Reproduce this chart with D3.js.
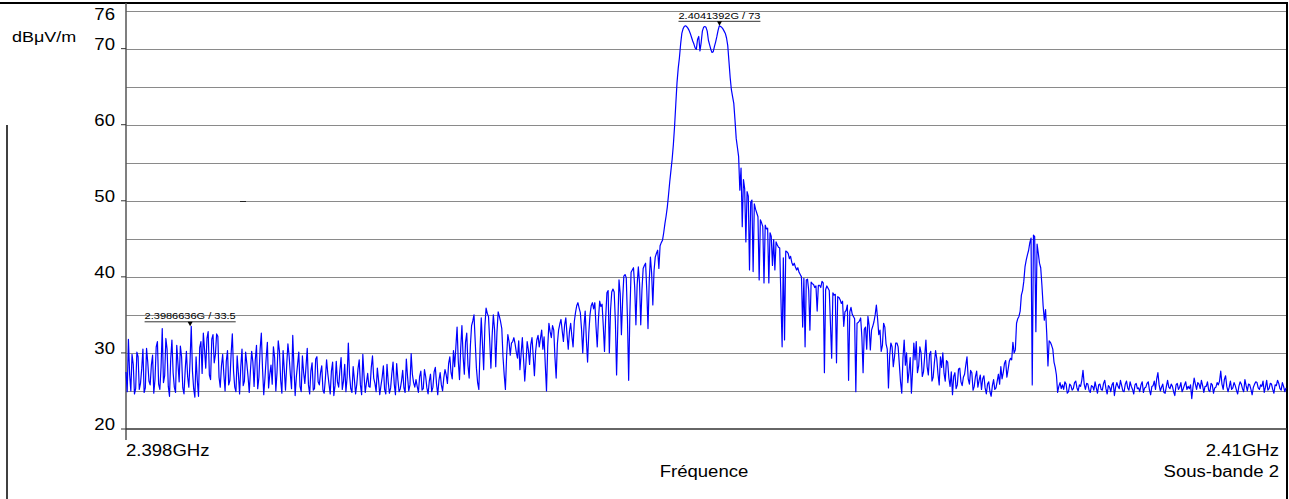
<!DOCTYPE html>
<html>
<head>
<meta charset="utf-8">
<script src="https://cdn.jsdelivr.net/npm/d3@7"></script>
<style>
  body { margin: 0; background: #fff; }
  svg { display: block; }
  text { font-family: "Liberation Sans", Arial, sans-serif; fill: #000; }
</style>
</head>
<body>
<svg id="chart"></svg>
<script>
// sweep: 2.398 GHz -> 2.41 GHz, one point every 12.5 kHz
const fStart = 2.398;
const fStop = 2.41;
const fStep = 0.0000125;

// levels in dBuV/m, one array per MHz (80 points each, last one closes the sweep)
const band0 = [
  27.5, 24.9, 31.8, 27.2, 25, 29.8, 28.5, 24.6, 25.3, 30.1,
  29.5, 25.2, 26, 27.9, 30.5, 24.8, 25.4, 30.6, 28.8, 26.3,
  25.8, 28.4, 29.7, 24.7, 26.5, 30.8, 31.5, 25.9, 25.2, 28.1,
  33.2, 26.1, 27, 31.9, 30.5, 25.6, 24.3, 29.2, 31.7, 27.4,
  25.5, 24.8, 31, 28.6, 26.2, 30.9, 29.5, 25.4, 24.6, 27.8,
  30.2, 26.9, 25.5, 28.9, 33.5, 27.6, 25.3, 24.2, 29.5, 26.4,
  24.3, 30.7, 31.5, 27.3, 32.6, 30.4, 28, 31.9, 32.8, 27.1,
  26.5, 31.8, 32.4, 28.7, 29.8, 32.5, 32.2, 26.8, 25.5, 28.3];
const band1 = [
  29.8, 27.1, 25, 28.9, 30.3, 25.8, 26.4, 29.9, 32.5, 27.6,
  25.5, 24.9, 29.6, 27.3, 24.6, 28.2, 30.5, 25.7, 26.3, 30.1,
  28.6, 26.9, 24.8, 27.7, 30.2, 28.8, 25.6, 29.1, 31, 25.3,
  26.8, 30.5, 32.6, 27.9, 24.5, 26.7, 29.3, 31.4, 25.4, 27.2,
  28.4, 25.9, 30.8, 29.4, 25, 27.5, 31.6, 30.2, 26.4, 24.7,
  30.3, 27.8, 25.1, 28.4, 31.2, 29.6, 27.2, 25.3, 32.3, 28.1,
  24.4, 26.9, 28.5, 30.1, 25.6, 24.9, 29.6, 27.4, 26, 28.3,
  30.6, 25.8, 24.6, 27.6, 28.7, 25.1, 25.3, 29.2, 29.5, 26.2];
const band2 = [
  25.8, 27.4, 28.3, 25.1, 24.7, 26.6, 29.1, 27.3, 25.9, 24.6,
  27.6, 28.8, 24.4, 25.7, 28.9, 26.2, 25.5, 27.7, 29.4, 25.2,
  26.3, 28.5, 24.9, 26.8, 31.3, 27.1, 25.3, 24.8, 28.2, 26.5,
  24.6, 25.9, 27.9, 29.1, 25.8, 24.5, 29.8, 27, 24.8, 26.1,
  27.3, 25.6, 25.5, 28.1, 29.6, 26.7, 26, 24.9, 28, 26.4,
  24.5, 25.7, 26.8, 28.3, 25.2, 24.6, 28.5, 26.2, 24.7, 25.4,
  27.3, 28.8, 25.9, 24.5, 28.6, 26.5, 24.9, 25.3, 26.3, 27.7,
  25.4, 24.8, 29.2, 26.9, 25, 25.8, 29.9, 27.2, 26.1, 25.5];
const band3 = [
  26.5, 25.6, 24.8, 26.9, 27.6, 25.1, 25.3, 27.8, 26.9, 25.4,
  24.6, 26.3, 27.2, 24.9, 25.5, 27.5, 28.1, 25.9, 24.5, 26.4,
  27.4, 25.8, 25, 26.7, 27.8, 27.1, 26, 28.6, 29.5, 27.4,
  26.6, 30.3, 28.2, 30.8, 33.4, 28.9, 26.5, 30.6, 33.6, 29.5,
  27.2, 31.4, 32.6, 28.4, 26.7, 30.9, 33.6, 34.2, 35, 31.5,
  28, 26.1, 25.2, 30.4, 34.6, 31.2, 27.8, 33.5, 35.9, 35.2,
  34.8, 31.6, 28, 32.2, 35, 33.1, 28.2, 32.7, 35.4, 34.8,
  34.1, 33.2, 29.5, 27.1, 25.2, 29.6, 32.4, 31.5, 29.7, 31.3];
const band4 = [
  31.5, 32, 31.2, 30.1, 29.3, 31.6, 27.8, 29.9, 32, 29.2,
  26.3, 28.7, 31.5, 30.4, 28.5, 31.1, 32, 29.6, 27, 30.2,
  31.7, 32.3, 30.8, 31.9, 33, 30.5, 32.1, 28.4, 25, 30.7,
  33.9, 32.8, 32, 33.6, 33, 29.4, 26.7, 31.2, 33, 33.8,
  34.4, 32.9, 31.5, 33.7, 34.6, 32.4, 30.5, 32.8, 33.9, 32.2,
  30.8, 34.1, 35.3, 36.2, 36.6, 35.9, 35.3, 33.1, 30, 33.4,
  35.5, 31.7, 28.8, 32.6, 35, 36.2, 36.6, 35.8, 36.6, 33.4,
  30.8, 34.5, 36.8, 36.1, 36.4, 33.5, 30.2, 34.7, 37.9, 38.2];
const band5 = [
  30, 35.6, 38, 38.4, 38, 34.2, 27.1, 33.5, 39.6, 37.8,
  32.4, 36.9, 40.1, 40.3, 39.9, 34.5, 26.4, 35.2, 40.6, 40.9,
  41.2, 38.6, 33.7, 38.9, 41.3, 39.2, 33.7, 38.3, 41.1, 41.5,
  41.8, 38.2, 33.2, 39.4, 42.6, 40.5, 36.3, 40.8, 42.6, 43.1,
  43.5, 41.1, 44.1, 44.5, 44.8, 45.8, 47, 48, 49.2, 50.8,
  52.5, 54, 55.5, 57.4, 59.8, 62.7, 65.5, 67.4, 68.8, 70.6,
  72, 72.6, 72.9, 73, 72.9, 72.7, 72.4, 72, 71.5, 71,
  70.6, 70.1, 69.9, 71.2, 71.6, 69.7, 70.8, 72.3, 72.8, 72.9];
const band6 = [
  72.8, 72.3, 71.1, 70.5, 69.9, 69.5, 69.6, 70.3, 70.9, 71.6,
  72.4, 73, 72.9, 72.8, 72.6, 72.3, 72, 71.4, 70.4, 68.3,
  66.2, 64.6, 63.7, 62.8, 60.6, 58.2, 57, 55.8, 51.4, 54.3,
  46.6, 52.8, 51.6, 44.6, 51.2, 50.6, 40.9, 49.8, 50.1, 40.7,
  49.6, 48.9, 48.4, 47.9, 39.6, 47.5, 47.1, 46.6, 39.2, 46.8,
  46.3, 46.4, 39.2, 45.8, 45.3, 41.5, 44.9, 40.9, 44.6, 44.2,
  43.9, 43.8, 37.2, 30.8, 42.5, 31.7, 43.4, 43.3, 43.1, 42.4,
  42.7, 41.9, 41.5, 41.8, 41.3, 40.9, 41.2, 40.6, 40.3, 40];
const band7 = [
  33.4, 39.8, 30.8, 39.6, 39.7, 38.2, 33, 39.3, 39.1, 39,
  38.6, 38.8, 35.5, 38.9, 38.9, 38.6, 39.4, 39.2, 27.4, 38.3,
  38.8, 38.5, 38.2, 33.8, 29.3, 37.9, 37.6, 37.7, 28.7, 37.4,
  37.3, 37, 36.5, 36.8, 33.5, 35.4, 35.6, 36.3, 26.4, 35.4,
  36, 35.1, 34.8, 34.5, 24.9, 33.9, 34, 34.2, 34.6, 32.1,
  27.4, 33.1, 33.4, 30.5, 34.8, 33.6, 30.4, 33, 33.5, 34.1,
  35, 36.3, 34.5, 32.4, 33, 30.2, 31, 33.9, 33.4, 31.2,
  30.5, 25.4, 29.6, 31.3, 30.8, 28.2, 29.5, 31.3, 31.3, 30.8];
const band8 = [
  28.5, 26.2, 24.7, 29.3, 31.7, 28.4, 30, 26.1, 27.5, 29.4,
  24.7, 27.8, 31.3, 29.1, 31.5, 27.4, 28.3, 30.8, 30, 26.9,
  27.5, 29.6, 31.7, 28.2, 27.1, 29.8, 30.2, 26.3, 26.8, 28.7,
  30.3, 29.2, 27.2, 25.8, 29.5, 28.1, 30, 27.3, 26.3, 29,
  28.8, 26.7, 25.6, 27.5, 24.5, 26.9, 27.4, 25.3, 25.8, 27.9,
  28, 26.2, 25.7, 26.8, 27.2, 28.4, 29.5, 26.6, 25.9, 27.7,
  27.4, 25.1, 25.6, 26.9, 27.6, 25.5, 26.4, 27.1, 25.2, 26.6,
  27, 25.4, 24.6, 25.9, 26.2, 24.9, 24.3, 25.7, 26.5, 25.2];
const band9 = [
  25.4, 26.3, 27.2, 25.9, 28.2, 26.6, 27.4, 28.6, 29, 26.8,
  27.8, 28.9, 29.3, 29.1, 31.4, 30, 30.4, 33.9, 34.5, 34.8,
  35.5, 37.6, 38.2, 39.4, 41.3, 42.2, 42.9, 43.5, 44.5, 45.1,
  25.8, 45.5, 45.3, 32.8, 44.3, 43.1, 41.8, 41.2, 38.9, 36.2,
  34.3, 35.7, 32.5, 28.3, 31.6, 31.4, 31, 30.5, 28.8, 28.1,
  27.1, 24.8, 25.6, 26.1, 25.3, 25.8, 25.2, 26.2, 25.9, 24.7,
  24.9, 25.9, 25.7, 25.1, 25.3, 26.1, 26.3, 25.4, 25, 25.8,
  25.6, 26.4, 27.7, 25.9, 25.2, 26, 25.9, 25.1, 24.8, 25.7];
const band10 = [
  25.6, 25.1, 26.2, 25.4, 24.7, 25.8, 25.9, 25.2, 25.1, 26,
  26.4, 25.3, 24.6, 25.7, 25.5, 24.9, 25.8, 26.1, 24.4, 25.5,
  26.1, 25.6, 25.3, 26.4, 25.7, 25, 24.9, 25.9, 26.3, 25.4,
  25.1, 26.2, 25.6, 25.2, 24.6, 25.8, 26, 25.3, 25.4, 24.9,
  25.8, 26.2, 24.8, 25.4, 25.5, 26, 26.2, 25.1, 24.5, 25.6,
  25.7, 26.3, 25.2, 26.6, 27.4, 25.8, 25, 25.5, 25.9, 24.8,
  24.7, 25.6, 26.4, 25.5, 25.3, 25.9, 25.6, 24.9, 24.4, 25.8,
  26, 25.2, 25.5, 26.1, 24.9, 25.3, 25.8, 26.2, 25.2, 25.6];
const band11 = [
  25.3, 25.8, 24, 25.5, 26.7, 25.9, 25.2, 26.1, 25.9, 25.3,
  26.4, 25.7, 24.8, 25.6, 25.6, 26.2, 25.1, 24.9, 26, 25.8,
  24.7, 25.4, 25.5, 26.1, 25.8, 26.3, 27.6, 25.9, 25.2, 26.5,
  27, 25.6, 24.9, 25.5, 26.3, 25.2, 25.4, 26.1, 25.7, 25.1,
  24.6, 25.6, 26.2, 25.9, 25.3, 24.9, 26.5, 25.7, 25, 25.9,
  25.8, 25.2, 24.5, 25.5, 25.9, 26.2, 26.1, 25.4, 25.2, 25.8,
  25.6, 26.3, 24.8, 25.5, 26.4, 25.1, 25.3, 26, 25.9, 25.2,
  24.7, 25.8, 25.7, 26.4, 26, 25.3, 25.1, 26.1, 25.6, 24.9,
  25.4];

const markers = [
  {f: 2.3986636, v: 33.5, label: '2.3986636G / 33.5'},
  {f: 2.4041392, v: 73, label: '2.4041392G / 73'}
];

const yTickValues = [76, 70, 60, 50, 40, 30, 20];
const gridValues = [25, 30, 35, 40, 45, 50, 55, 60, 65, 70, 75];

const levels = [].concat(band0, band1, band2, band3, band4, band5, band6, band7, band8, band9, band10, band11);
const trace = levels.map((v, i) => ({f: fStart + i * fStep, v}));

const width = 1289;
const height = 499;
const plotLeft = 126, plotRight = 1286, plotTop = 3, plotBottom = 429;

const svg = d3.select('#chart')
  .attr('width', width)
  .attr('height', height);

const x = d3.scaleLinear().domain([fStart, fStop]).range([plotLeft, plotRight]);
const y = d3.scaleLinear().domain([20, 76]).range([plotBottom, plotTop]);

// text in the reference is a bit wider than Arial
const stretch = 1.16;
function label(sel, px, py, txt, size, anchor) {
  return sel.append('text')
    .attr('transform', `translate(${px},${py}) scale(${stretch},1)`)
    .attr('font-size', size)
    .attr('text-anchor', anchor || 'start')
    .text(txt);
}

// outer frame
svg.append('line').attr('x1', 7).attr('x2', 7).attr('y1', 125).attr('y2', height)
  .attr('stroke', '#000').attr('stroke-width', 1.5);
svg.append('line').attr('x1', 0).attr('x2', 1288).attr('y1', 3).attr('y2', 3)
  .attr('stroke', '#000').attr('stroke-width', 2);
svg.append('line').attr('x1', 1287).attr('x2', 1287).attr('y1', 3).attr('y2', height)
  .attr('stroke', '#000').attr('stroke-width', 2);

// grid
svg.append('g')
  .selectAll('line')
  .data(gridValues)
  .join('line')
  .attr('x1', plotLeft)
  .attr('x2', plotRight)
  .attr('y1', d => Math.round(y(d)) + 0.5)
  .attr('y2', d => Math.round(y(d)) + 0.5)
  .attr('stroke', '#8a8a8a')
  .attr('stroke-width', 1);

// small dark stub on the 50 line, as in the capture
svg.append('line')
  .attr('x1', 240).attr('x2', 246)
  .attr('y1', Math.round(y(50)) + 0.5).attr('y2', Math.round(y(50)) + 0.5)
  .attr('stroke', '#222');

// axes
svg.append('line').attr('x1', plotLeft).attr('x2', plotLeft).attr('y1', plotTop).attr('y2', 440)
  .attr('stroke', '#555').attr('stroke-width', 1.5);
svg.append('line').attr('x1', plotLeft).attr('x2', 1287).attr('y1', plotBottom).attr('y2', plotBottom)
  .attr('stroke', '#333').attr('stroke-width', 1.5);

const yAxis = svg.append('g');
yAxis.selectAll('line')
  .data(yTickValues.filter(d => d !== 76))
  .join('line')
  .attr('x1', 121)
  .attr('x2', plotLeft)
  .attr('y1', d => y(d))
  .attr('y2', d => y(d))
  .attr('stroke', '#333');
yTickValues.forEach(d => {
  label(yAxis, 115, Math.max(y(d) + 1, 20), d, 16, 'end');
});
label(svg, 12, 42, 'dBμV/m', 15.5);

// x axis labels
label(svg, plotLeft, 456, '2.398GHz', 16);
label(svg, 1279, 456, '2.41GHz', 16, 'end');
label(svg, 704, 477, 'Fréquence', 16, 'middle');
label(svg, 1279, 477, 'Sous-bande 2', 16, 'end');

// trace
const line = d3.line()
  .x(d => x(d.f))
  .y(d => y(d.v));

svg.append('path')
  .datum(trace)
  .attr('fill', 'none')
  .attr('stroke', '#0000ff')
  .attr('stroke-width', 1.2)
  .attr('stroke-linejoin', 'round')
  .attr('d', line);

// markers
const mk = svg.append('g');
markers.forEach(m => {
  const mx = x(m.f);
  const my = y(m.v);
  const t = label(mk, mx, my - 7, m.label, 9.5, 'middle');
  const w = t.node().getComputedTextLength() * stretch;
  mk.append('line')
    .attr('x1', mx - w / 2).attr('x2', mx + w / 2)
    .attr('y1', my - 4.5).attr('y2', my - 4.5)
    .attr('stroke', '#333').attr('stroke-width', 1);
  mk.append('path')
    .attr('d', `M${mx - 2.5},${my - 4.5}L${mx + 2.5},${my - 4.5}L${mx},${my}Z`)
    .attr('fill', '#000');
});
</script>
</body>
</html>
